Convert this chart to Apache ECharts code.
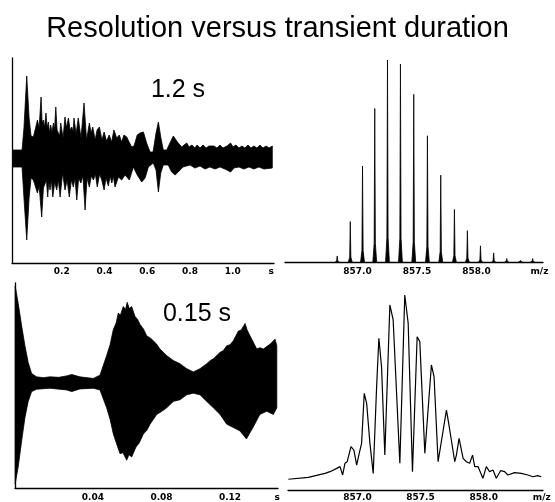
<!DOCTYPE html>
<html lang="en">
<head>
    <meta charset="UTF-8">
    <title>Resolution versus transient duration</title>
    <style>
        * {
            margin: 0px;
            padding: 0px;
        }

        #main {
            width: 555px;
            height: 502px;
            background-color: #ffffff;
        }
    </style>
</head>
<body>
<div id="main"></div>
</body>

<script src="https://cdn.jsdelivr.net/npm/echarts@6/dist/echarts.min.js"></script>
<script type="text/javascript">
    // 1.2 s transient: upper / lower envelope  [time s, amplitude]
    var longUpper = [[-0.028, 0], [-0.028, 8], [0.014, 8], [0.023, 30], [0.036, 82], [0.047, 40], [0.056, 22], [0.067, 21],
        [0.075, 28], [0.086, 38], [0.094, 30], [0.103, 61], [0.108, 35], [0.114, 38], [0.119, 30], [0.126, 45], [0.131, 30],
        [0.137, 36], [0.143, 25], [0.148, 33], [0.154, 26], [0.161, 35], [0.166, 28], [0.172, 51], [0.178, 28], [0.184, 30],
        [0.190, 22], [0.195, 35], [0.206, 20], [0.215, 41], [0.222, 30], [0.231, 40], [0.239, 28], [0.247, 31], [0.253, 26],
        [0.257, 40], [0.267, 24], [0.277, 40], [0.290, 20], [0.304, 55], [0.316, 18], [0.329, 35], [0.337, 25], [0.345, 31],
        [0.356, 18], [0.365, 28], [0.376, 31], [0.388, 18], [0.398, 26], [0.409, 17], [0.422, 23], [0.433, 16], [0.444, 28],
        [0.457, 20], [0.469, 23], [0.480, 16], [0.491, 23], [0.504, 21], [0.515, 16], [0.527, 11], [0.538, 12], [0.553, 23],
        [0.566, 25], [0.582, 26], [0.597, 15], [0.613, 6], [0.627, 6], [0.641, 25], [0.652, 36], [0.663, 21], [0.675, 8],
        [0.691, 8], [0.706, 15], [0.722, 22], [0.741, 16], [0.761, 11], [0.772, 13], [0.785, 15], [0.795, 11], [0.809, 13],
        [0.823, 10], [0.833, 13], [0.847, 10], [0.861, 13], [0.875, 10], [0.889, 12], [0.898, 10], [0.912, 12], [0.926, 10],
        [0.940, 13], [0.954, 10], [0.973, 12], [0.990, 15], [1.001, 11], [1.015, 13], [1.029, 10], [1.043, 12], [1.057, 10],
        [1.071, 13], [1.085, 10], [1.099, 12], [1.113, 10], [1.127, 13], [1.141, 10], [1.156, 12], [1.170, 10], [1.185, 12],
        [1.185, 0]];
    var longLower = [[-0.028, 0], [-0.028, -9], [0.014, -9], [0.023, -40], [0.036, -82], [0.047, -40], [0.056, -20], [0.067, -22],
        [0.075, -20], [0.086, -35], [0.094, -28], [0.106, -59], [0.114, -30], [0.122, -32], [0.128, -22], [0.134, -39],
        [0.139, -24], [0.145, -32], [0.151, -22], [0.158, -39], [0.167, -24], [0.176, -32], [0.184, -22], [0.192, -39],
        [0.204, -15], [0.215, -32], [0.225, -22], [0.235, -39], [0.245, -22], [0.254, -29], [0.262, -20], [0.270, -42],
        [0.279, -20], [0.289, -25], [0.299, -18], [0.309, -52], [0.318, -20], [0.329, -29], [0.338, -18], [0.348, -22],
        [0.357, -16], [0.366, -29], [0.377, -16], [0.387, -22], [0.398, -32], [0.407, -20], [0.418, -28], [0.426, -18],
        [0.434, -25], [0.441, -18], [0.449, -29], [0.465, -19], [0.480, -22], [0.496, -17], [0.516, -22], [0.535, -9],
        [0.553, -17], [0.574, -24], [0.590, -20], [0.605, -9], [0.628, -5], [0.641, -12], [0.652, -34], [0.663, -15],
        [0.675, -7], [0.698, -7], [0.714, -14], [0.730, -17], [0.745, -14], [0.767, -9], [0.800, -7], [0.823, -10],
        [0.847, -8], [0.870, -11], [0.893, -9], [0.917, -11], [0.940, -9], [0.963, -11], [0.990, -14], [1.006, -10],
        [1.029, -9], [1.052, -11], [1.076, -9], [1.099, -11], [1.122, -9], [1.146, -11], [1.185, -10], [1.185, 0]];

    // 0.15 s transient
    var shortUpper = [[-0.0054, 0], [-0.0054, 100], [-0.0036, 82], [-0.0016, 59], [0.0003, 39], [0.0022, 22], [0.0042, 10.7],
        [0.0071, 7.3], [0.0110, 6.5], [0.0149, 7.3], [0.0200, 6.8], [0.0246, 8.3], [0.0276, 9.7], [0.0324, 7.3], [0.0402, 5.7],
        [0.0441, 9], [0.0480, 29], [0.0500, 40], [0.0519, 55.7], [0.0535, 62], [0.0548, 72.3], [0.0560, 70], [0.0577, 79],
        [0.0590, 76], [0.0600, 83.3], [0.0612, 77], [0.0626, 79], [0.0645, 69], [0.0660, 66], [0.0675, 60.7], [0.0695, 56],
        [0.0714, 49], [0.0735, 47], [0.0752, 44], [0.0770, 41], [0.0791, 35.7], [0.0830, 29], [0.0869, 24], [0.0908, 20.7],
        [0.0947, 15.7], [0.0986, 12.3], [0.1025, 15.7], [0.1064, 20.7], [0.1085, 24], [0.1103, 25.7], [0.1142, 32.3],
        [0.1160, 34], [0.1181, 39], [0.1200, 40], [0.1219, 44], [0.1249, 54], [0.1265, 55], [0.1288, 61.7], [0.1300, 55],
        [0.1317, 49], [0.1356, 35.7], [0.1375, 37], [0.1395, 35.7], [0.1434, 40.7], [0.1463, 45.7], [0.1473, 39], [0.1473, 0]];
    var shortLower = [[-0.0054, 0], [-0.0054, -102], [-0.0036, -84], [-0.0016, -57.7], [0.0003, -34.3], [0.0022, -17.7],
        [0.0042, -7.7], [0.0071, -5.3], [0.0149, -4.3], [0.0246, -6], [0.0276, -7.7], [0.0324, -5], [0.0402, -4.3],
        [0.0441, -6], [0.0480, -24.3], [0.0500, -36], [0.0519, -51], [0.0540, -62], [0.0558, -71], [0.0575, -70],
        [0.0597, -77.7], [0.0610, -72], [0.0626, -74.3], [0.0651, -64.3], [0.0670, -60], [0.0694, -51], [0.0715, -47],
        [0.0733, -41], [0.0772, -31], [0.0800, -28], [0.0830, -24.3], [0.0869, -17.7], [0.0908, -16], [0.0947, -11],
        [0.0986, -9.3], [0.1025, -11], [0.1064, -17.7], [0.1103, -24.3], [0.1142, -31], [0.1181, -41], [0.1219, -44.3],
        [0.1257, -47.7], [0.1296, -56], [0.1315, -50], [0.1334, -44.3], [0.1374, -31], [0.1414, -27.7], [0.1453, -31],
        [0.1473, -24.3], [0.1473, 0]];

    // long transient spectrum: isotope peaks
    var topPeakMz = [856.829, 856.939, 857.042, 857.145, 857.252, 857.361, 857.473, 857.588,
        857.700, 857.815, 857.924, 858.034, 858.145, 858.255, 858.370, 858.473];
    var topPeakHeight = [3, 20, 47.5, 76, 100, 98, 83, 62.5, 43, 26, 15.5, 8, 4.5, 1.7, 0.8, 1.7];

    // short transient spectrum: profile
    var lowSpectrum = [[856.453, 5.5], [856.611, 6.5], [856.743, 8.5], [856.783, 9.4], [856.836, 11.1], [856.862, 12.0],
        [856.883, 7.7], [856.901, 13.7], [856.919, 14.5], [856.949, 22.2], [856.972, 20.5], [856.994, 12.8], [857.014, 18.8],
        [857.033, 23.9], [857.054, 49.6], [857.073, 44.4], [857.099, 23.9], [857.125, 8.5], [857.152, 53.0], [857.170, 77.8],
        [857.191, 63.2], [857.217, 17.9], [857.257, 94.9], [857.283, 87.2], [857.336, 13.7], [857.375, 100], [857.402, 85.5],
        [857.436, 9.4], [857.473, 78.6], [857.494, 76.1], [857.534, 18.8], [857.586, 64.1], [857.607, 58.1], [857.639, 14.5],
        [857.705, 41.0], [857.723, 34.2], [857.771, 14.5], [857.784, 17.9], [857.805, 26.5], [857.824, 20.5], [857.837, 16.2],
        [857.863, 14.5], [857.889, 13.7], [857.912, 17.9], [857.929, 12.0], [857.955, 12.0], [857.994, 6.0], [858.021, 12.0],
        [858.047, 9.4], [858.074, 10.3], [858.100, 6.0], [858.134, 9.9], [858.166, 9.4], [858.192, 7.7], [858.245, 8.9],
        [858.298, 8.5], [858.350, 7.7], [858.390, 6.8], [858.429, 7.4], [858.456, 6.8]];

    // tick labels
    var longTicks = [0.2, 0.4, 0.6, 0.8, 1.0, 1.18];
    var shortTicks = [0.04, 0.08, 0.12, 0.1475];
    var topMzTicks = [857.0, 857.5, 858.0, 858.53];
    var lowMzTicks = [857.0, 857.5, 858.0, 858.46];

    var PEAK_HALF = 0.016;
    var PEAK_WAIST = 0.005;

    var tickFont = {
        fontSize: 9,
        fontWeight: 'bold',
        fontFamily: 'DejaVu Sans',
        color: '#000'
    };

    function xAxisOf(idx, min, max, ticks, unit, digits, margin) {
        return {
            type: 'value',
            gridIndex: idx,
            min: min,
            max: max,
            axisLine: {onZero: false, lineStyle: {color: '#000', width: 1.3}},
            axisTick: {show: false},
            splitLine: {show: false},
            axisLabel: Object.assign({
                customValues: ticks,
                margin: margin,
                showMinLabel: true,
                showMaxLabel: true,
                formatter: function (v) {
                    return v === ticks[ticks.length - 1] ? unit : v.toFixed(digits);
                }
            }, tickFont)
        };
    }

    function yAxisOf(idx, min, max, line) {
        return {
            type: 'value',
            gridIndex: idx,
            min: min,
            max: max,
            axisLine: {show: line, onZero: false, lineStyle: {color: '#000', width: 1.3}},
            axisTick: {show: false},
            axisLabel: {show: false},
            splitLine: {show: false}
        };
    }

    function envelope(data, idx) {
        return {
            type: 'line',
            xAxisIndex: idx,
            yAxisIndex: idx,
            data: data,
            symbol: 'none',
            lineStyle: {color: '#000', width: 0.8},
            areaStyle: {color: '#000', opacity: 1, origin: 0},
            silent: true
        };
    }

    var myChart = echarts.init(document.getElementById('main'));
    myChart.setOption({
        animation: false,
        backgroundColor: '#ffffff',
        title: {
            text: 'Resolution versus transient duration',
            left: 'center',
            top: 9,
            textStyle: {
                fontSize: 29,
                fontWeight: 'normal',
                fontFamily: 'Liberation Sans',
                color: '#000'
            }
        },
        grid: [
            {left: 12, top: 58, width: 262, height: 205},
            {left: 285, top: 60, width: 258, height: 202},
            {left: 15, top: 283, width: 263, height: 209},
            {left: 288, top: 295, width: 255, height: 195}
        ],
        xAxis: [
            xAxisOf(0, -0.033, 1.193, longTicks, 's', 1, 4),
            xAxisOf(1, 856.39, 858.56, topMzTicks, 'm/z', 1, 5),
            xAxisOf(2, -0.0055, 0.148, shortTicks, 's', 2, 5),
            xAxisOf(3, 856.45, 858.47, lowMzTicks, 'm/z', 1, 3)
        ],
        yAxis: [
            yAxisOf(0, -105, 100, true),
            yAxisOf(1, 0, 100, false),
            yAxisOf(2, -106, 103, true),
            yAxisOf(3, 0, 100, false)
        ],
        graphic: [
            {
                type: 'text', x: 178, y: 90,
                style: {
                    text: '1.2 s', fontSize: 25, fontFamily: 'Liberation Sans', fill: '#000',
                    textAlign: 'center', textVerticalAlign: 'middle'
                }
            },
            {
                type: 'text', x: 197, y: 314,
                style: {
                    text: '0.15 s', fontSize: 25, fontFamily: 'Liberation Sans', fill: '#000',
                    textAlign: 'center', textVerticalAlign: 'middle'
                }
            }
        ],
        series: [
            envelope(longUpper, 0),
            envelope(longLower, 0),
            {
                type: 'custom',
                xAxisIndex: 1,
                yAxisIndex: 1,
                data: topPeakMz.map(function (m, i) {
                    return [m, topPeakHeight[i]];
                }),
                renderItem: function (params, api) {
                    var m = api.value(0), h = api.value(1);
                    return {
                        type: 'polygon',
                        shape: {
                            points: [
                                api.coord([m - PEAK_HALF, 0]),
                                api.coord([m - PEAK_WAIST, h * 0.12]),
                                api.coord([m, h]),
                                api.coord([m + PEAK_WAIST, h * 0.12]),
                                api.coord([m + PEAK_HALF, 0])
                            ]
                        },
                        style: {fill: '#000', stroke: '#000', lineWidth: 0.8}
                    };
                },
                silent: true
            },
            envelope(shortUpper, 2),
            envelope(shortLower, 2),
            {
                type: 'line',
                xAxisIndex: 3,
                yAxisIndex: 3,
                data: lowSpectrum,
                symbol: 'none',
                lineStyle: {color: '#000', width: 1.2},
                silent: true
            }
        ]
    });
</script>
</html>
